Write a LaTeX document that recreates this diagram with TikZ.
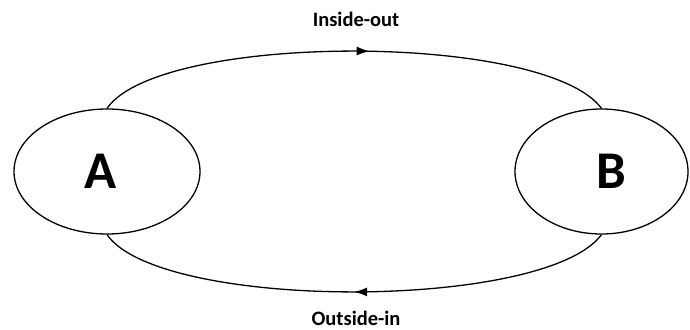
\documentclass[tikz,border=0pt]{standalone}
\usepackage{fontspec}
\setmainfont{Carlito}
\usetikzlibrary{shapes.geometric, arrows.meta, positioning, decorations.markings}

\begin{document}
\begin{tikzpicture}[
    x=1pt, y=-1pt,
    state/.style={draw, ellipse, line width=1.3pt, inner sep=0pt, font=\fontsize{53}{53}\selectfont\bfseries},
    flow/.style={line width=1.3pt, decoration={markings, mark=at position #1 with {\arrow{Latex[length=13pt,width=9pt]}}}, postaction={decorate}},
    tag/.style={font=\fontsize{20.5}{20.5}\selectfont\bfseries, inner sep=0pt}
]
\useasboundingbox (0,0) rectangle (690,329);
\node[state, minimum width=186pt, minimum height=125pt] (A) at (107,171.5) {A\hspace*{12pt}};
\node[state, minimum width=173pt, minimum height=125pt] (B) at (601.5,171.5) {\hspace*{20pt}B};

\draw[flow=0.53] (A.north) .. controls (160,32) and (545,32) .. (B.north);
\draw[flow=0.5] (B.south) .. controls (545,311) and (160,311) .. (A.south);

\node[tag, anchor=base] (io) at (356,27) {Inside-out};
\node[tag, anchor=base] (oi) at (356,325) {Outside-in};
\end{tikzpicture}
\end{document}
